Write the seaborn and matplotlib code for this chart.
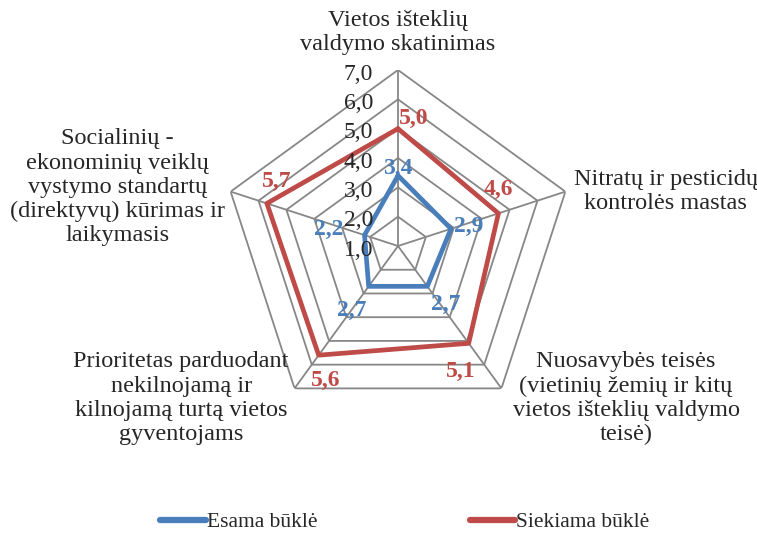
import numpy as np
import pandas as pd
import seaborn as sns
import matplotlib.pyplot as plt

categories = ['Vietos išteklių\nvaldymo skatinimas',
              'Nitratų ir pesticidų\nkontrolės mastas',
              'Nuosavybės teisės\n(vietinių žemių ir kitų\nvietos išteklių valdymo\nteisė)',
              'Prioritetas parduodant\nnekilnojamą ir\nkilnojamą turtą vietos\ngyventojams',
              'Socialinių -\nekonominių veiklų\nvystymo standartų\n(direktyvų) kūrimas ir\nlaikymasis']
esama = [3.4, 2.9, 2.7, 2.7, 2.2]
siekiama = [5.0, 4.6, 5.1, 5.6, 5.7]
ticks = [1, 2, 3, 4, 5, 6, 7]
series = ['Esama būklė', 'Siekiama būklė']
colors = ['#4A7EBB', '#BE4B48']

sns.set_style('white')
plt.rcParams['font.family'] = ['Liberation Serif', 'DejaVu Serif']

n = len(categories)
angles = [i * 2 * np.pi / n for i in range(n)]
closed = angles + angles[:1]

rows = []
for name, vals in zip(series, [esama, siekiama]):
    for a, v in zip(closed, vals + vals[:1]):
        rows.append({'theta': a, 'r': v, 'series': name})
df = pd.DataFrame(rows)

fig = plt.figure(figsize=(7.57, 5.34), dpi=100)
ax = fig.add_axes([222 / 757, 112 / 534, 352 / 757, 352 / 534], projection='polar')
ax.set_theta_zero_location('N')
ax.set_theta_direction(-1)
ax.set_ylim(1, 7)
ax.grid(False)
ax.spines['polar'].set_visible(False)
ax.set_xticks([])
ax.set_yticks([])
ax.patch.set_alpha(0)

# pentagon grid and spokes
for t in ticks[1:]:
    ax.plot(closed, [t] * len(closed), color='#878787', lw=1.3, zorder=1)
for a in angles:
    ax.plot([a, a], [1, 7], color='#878787', lw=1.3, zorder=1)

sns.lineplot(data=df, x='theta', y='r', hue='series', palette=colors,
             sort=False, estimator=None, lw=3.4, ax=ax, zorder=3)
ax.set_xlabel('')
ax.set_ylabel('')
handles, labels = ax.get_legend_handles_labels()
ax.get_legend().remove()

for t in ticks:
    ax.annotate(f'{t:.1f}'.replace('.', ','), xy=(0, t), xytext=(-18, -3),
                textcoords='offset points', ha='right', va='center', fontsize=17)

# data labels
off_e = [(0, 5), (13, 2), (13, -13), (-12, -17), (-26, 4)]
off_s = [(11, 7), (0, 17), (-6, -20), (5, -18), (7, 16)]
for a, v, o in zip(angles, esama, off_e):
    ax.annotate(f'{v:.1f}'.replace('.', ','), xy=(a, v), xytext=o,
                textcoords='offset points', ha='center', va='center',
                fontsize=17, fontweight='bold', color=colors[0], zorder=4)
for a, v, o in zip(angles, siekiama, off_s):
    ax.annotate(f'{v:.1f}'.replace('.', ','), xy=(a, v), xytext=o,
                textcoords='offset points', ha='center', va='center',
                fontsize=17, fontweight='bold', color=colors[1], zorder=4)

# category labels
cat_pos = [((0, 27), 'center', 'center'), ((6, 0), 'left', 'center'),
           ((8, -7), 'left', 'center'), ((-4, -7), 'right', 'center'),
           ((-4, 3), 'right', 'center')]
for a, c, (o, ha, va) in zip(angles, categories, cat_pos):
    ax.annotate(c, xy=(a, 7), xytext=o, textcoords='offset points',
                ha=ha, va=va, multialignment='center', fontsize=17.5,
                linespacing=1.2)

leg = fig.legend(handles, labels, loc='center', bbox_to_anchor=(0.535, 0.022),
                 ncol=2, frameon=False, fontsize=15.5, handlelength=2.1,
                 handletextpad=0.05, columnspacing=7.1)
for h in leg.get_lines():
    h.set_linewidth(4.5)
    h.set_solid_capstyle('round')

fig.savefig('out.png', dpi=100)
